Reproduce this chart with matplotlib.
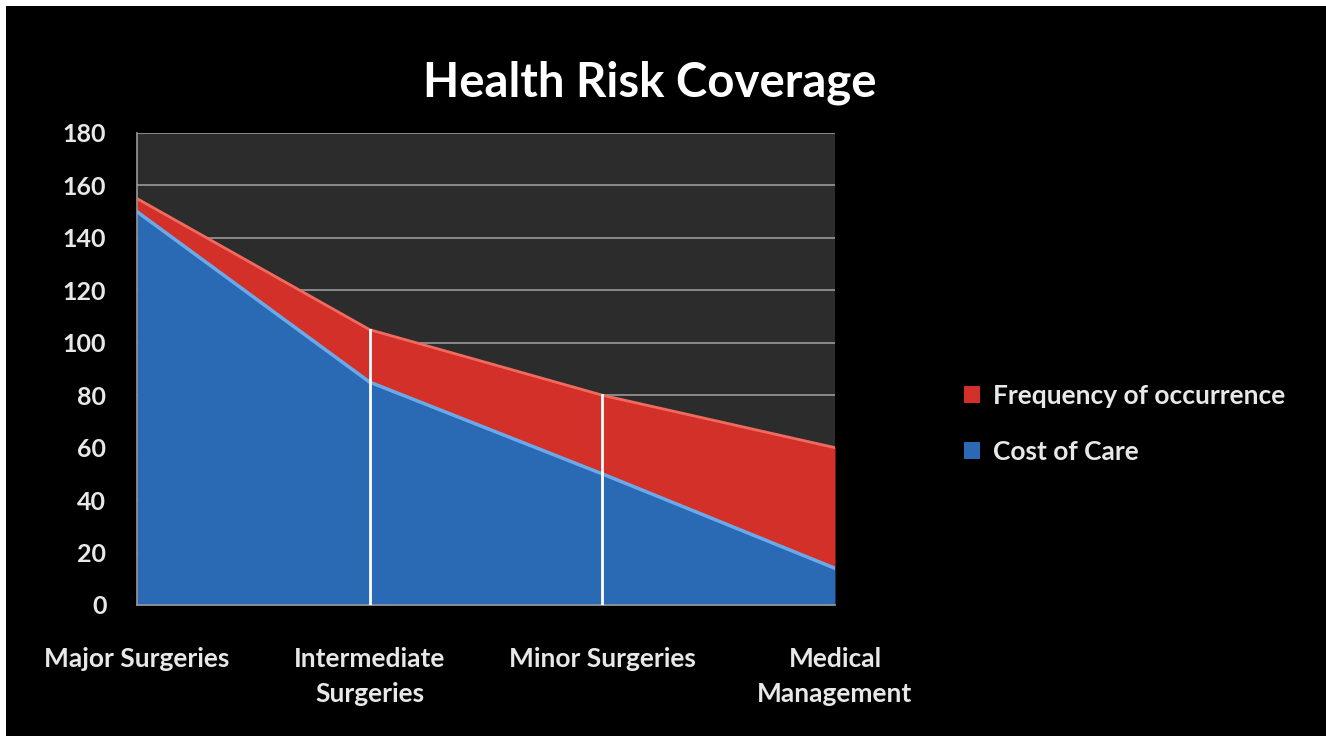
import numpy as np
import matplotlib.pyplot as plt
from matplotlib.patches import Rectangle, Patch

categories = ['Major Surgeries', 'Intermediate\nSurgeries', 'Minor Surgeries', 'Medical\nManagement']
cost_of_care = [150, 85, 50, 14]
frequency = [5, 20, 30, 46]

plt.rcParams['font.family'] = ['Lato', 'DejaVu Sans']

x = np.arange(len(categories))
total = np.array(cost_of_care) + np.array(frequency)

fig = plt.figure(figsize=(13.26, 7.36), dpi=100, facecolor='white')
# black slide with thin white strip on top and left
fig.patches.append(Rectangle((6 / 1326, -0.1), 1.2, 1.1 - 6 / 736, transform=fig.transFigure,
                             facecolor='black', edgecolor='none', zorder=-10))
ax = fig.add_axes([0.1033, 0.178, 0.5264, 0.6413])
ax.set_facecolor('#2c2c2c')

blue = '#2a69b4'
red = '#d3302a'
ax.fill_between(x, 0, cost_of_care, color=blue, lw=0, zorder=2)
ax.fill_between(x, cost_of_care, total, color=red, lw=0, zorder=2)
ax.plot(x, cost_of_care, color='#6aaae8', lw=2.5, zorder=3)
ax.plot(x, total, color='#f06a5e', lw=2, zorder=3)

# drop lines at inner categories
for i in x[1:-1]:
    ax.plot([i, i], [0, total[i]], color='white', lw=2, zorder=4)

ax.set_xlim(0, 3)
ax.set_ylim(0, 180)
ax.set_yticks(range(0, 181, 20))
ax.grid(axis='y', color='#9a9a9a', lw=1.2, zorder=1)
ax.set_axisbelow(True)
for s in ['top', 'right']:
    ax.spines[s].set_visible(False)
for s in ['left', 'bottom']:
    ax.spines[s].set_color('#9a9a9a')
    ax.spines[s].set_linewidth(1.2)

ax.set_xticks(x)
ax.set_xticklabels(categories, fontsize=19, fontweight='bold', color='#e8e8e8', linespacing=1.55)
ax.tick_params(axis='x', length=0, pad=30)
ax.tick_params(axis='y', length=0, pad=22, labelsize=18, labelcolor='#e8e8e8')
for lbl in ax.get_yticklabels():
    lbl.set_fontweight('bold')

fig.text(0.49, 0.887, 'Health Risk Coverage', fontsize=34, fontweight='bold',
         color='white', ha='center', va='center')

handles = [Patch(facecolor=red, label='Frequency of occurrence'),
           Patch(facecolor=blue, label='Cost of Care')]
leg = fig.legend(handles=handles, loc='center left', bbox_to_anchor=(0.709, 0.424),
                 frameon=False, fontsize=19, labelspacing=1.2, handlelength=0.6,
                 handleheight=0.6, handletextpad=0.5)
for t in leg.get_texts():
    t.set_color('#e8e8e8')
    t.set_fontweight('bold')

fig.savefig('out.png', dpi=100, facecolor=fig.get_facecolor())
